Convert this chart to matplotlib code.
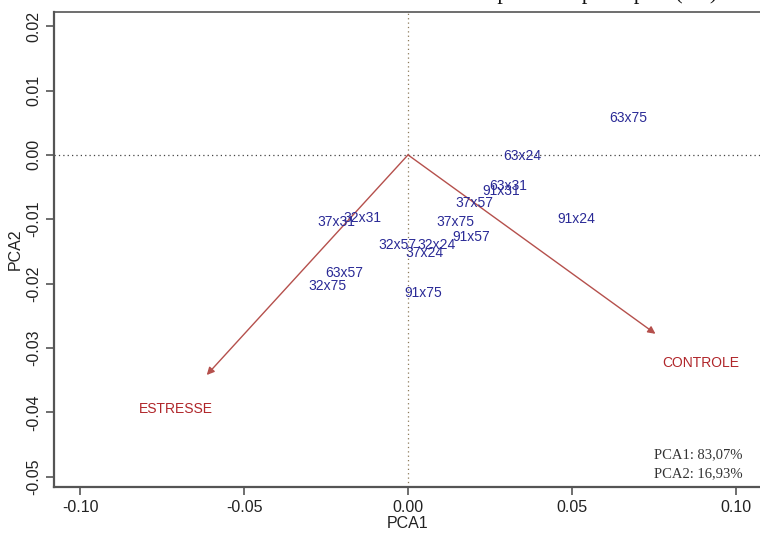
import matplotlib
matplotlib.use('Agg')
import matplotlib.pyplot as plt

plt.rcParams['font.family'] = ['Liberation Sans', 'DejaVu Sans']

# genotype scores
genotypes = ['63x75', '63x24', '63x31', '91x31', '37x57', '91x24', '37x31', '32x31',
             '37x75', '91x57', '32x57', '32x24', '37x24', '63x57', '32x75', '91x75']
pc1 = [0.0672, 0.0349, 0.0305, 0.0285, 0.0204, 0.0514, -0.0218, -0.0140,
       0.0144, 0.0193, -0.0031, 0.0088, 0.0050, -0.0194, -0.0245, 0.0046]
pc2 = [0.0058, -0.0001, -0.0049, -0.0056, -0.0074, -0.0099, -0.0105, -0.0098,
       -0.0105, -0.0127, -0.0140, -0.0140, -0.0152, -0.0184, -0.0204, -0.0214]

# environment vectors
envs = ['ESTRESSE', 'CONTROLE']
env_pc1 = [-0.0614, 0.0755]
env_pc2 = [-0.0342, -0.0278]
env_lab_pc1 = [-0.0709, 0.0892]
env_lab_pc2 = [-0.0395, -0.0323]

var_text = ['PCA1: 83,07%', 'PCA2: 16,93%']
xticks = [-0.10, -0.05, 0.00, 0.05, 0.10]
yticks = [0.02, 0.01, 0.00, -0.01, -0.02, -0.03, -0.04, -0.05]

fig = plt.figure(figsize=(7.6, 5.34), dpi=100)
ax = fig.add_axes([54/760, 47/534, 708/760, 475/534])

ax.axhline(0, color='#444444', linestyle=(0, (1, 2.5)), linewidth=0.9, zorder=1)
ax.axvline(0, color='#8c7a5a', linestyle=(0, (1, 2.5)), linewidth=0.9, zorder=1)

for name, x, y, lx, ly in zip(envs, env_pc1, env_pc2, env_lab_pc1, env_lab_pc2):
    ax.annotate('', xy=(x, y), xytext=(0, 0),
                arrowprops=dict(arrowstyle='-|>', color='#b5504c', lw=1.0,
                                mutation_scale=11, shrinkA=0, shrinkB=0))
    ax.text(lx, ly, name, color='#b0262a', fontsize=10, ha='center', va='center')

for g, x, y in zip(genotypes, pc1, pc2):
    ax.text(x, y, g, color='#2a2a96', fontsize=10, ha='center', va='center')

ax.text(0.973, 0.069, var_text[0], transform=ax.transAxes, ha='right', va='center',
        fontsize=10.5, family='Liberation Serif', color='#333333')
ax.text(0.973, 0.029, var_text[1], transform=ax.transAxes, ha='right', va='center',
        fontsize=10.5, family='Liberation Serif', color='#333333')

ax.set_xlim(-0.108, 0.108)
ax.set_ylim(-0.0516, 0.0222)
ax.set_xticks(xticks)
ax.set_xticklabels(['%.2f' % t for t in xticks])
ax.set_yticks(yticks)
ax.set_yticklabels(['%.2f' % t for t in yticks], rotation=90, va='center')
ax.tick_params(direction='out', length=6, width=1.2, color='#555555',
               labelsize=11.5, labelcolor='#222222', pad=3)

for s in ['left', 'bottom']:
    ax.spines[s].set_linewidth(1.6)
    ax.spines[s].set_color('#555555')
for s in ['top', 'right']:
    ax.spines[s].set_linewidth(1.2)
    ax.spines[s].set_color('#555555')

ax.set_xlabel('PCA1', fontsize=11.5, color='#222222', labelpad=1)
ax.set_ylabel('PCA2', fontsize=11.5, color='#222222', labelpad=3)

# caption line from the page, mostly cut off by the crop
fig.text(723/760, 1 + 1/534,
         'os resultados relacionados à característica em componentes principais (CP).',
         ha='right', va='baseline', fontsize=16, family='Liberation Serif', color='#111111')

fig.savefig('out.png', dpi=100)
